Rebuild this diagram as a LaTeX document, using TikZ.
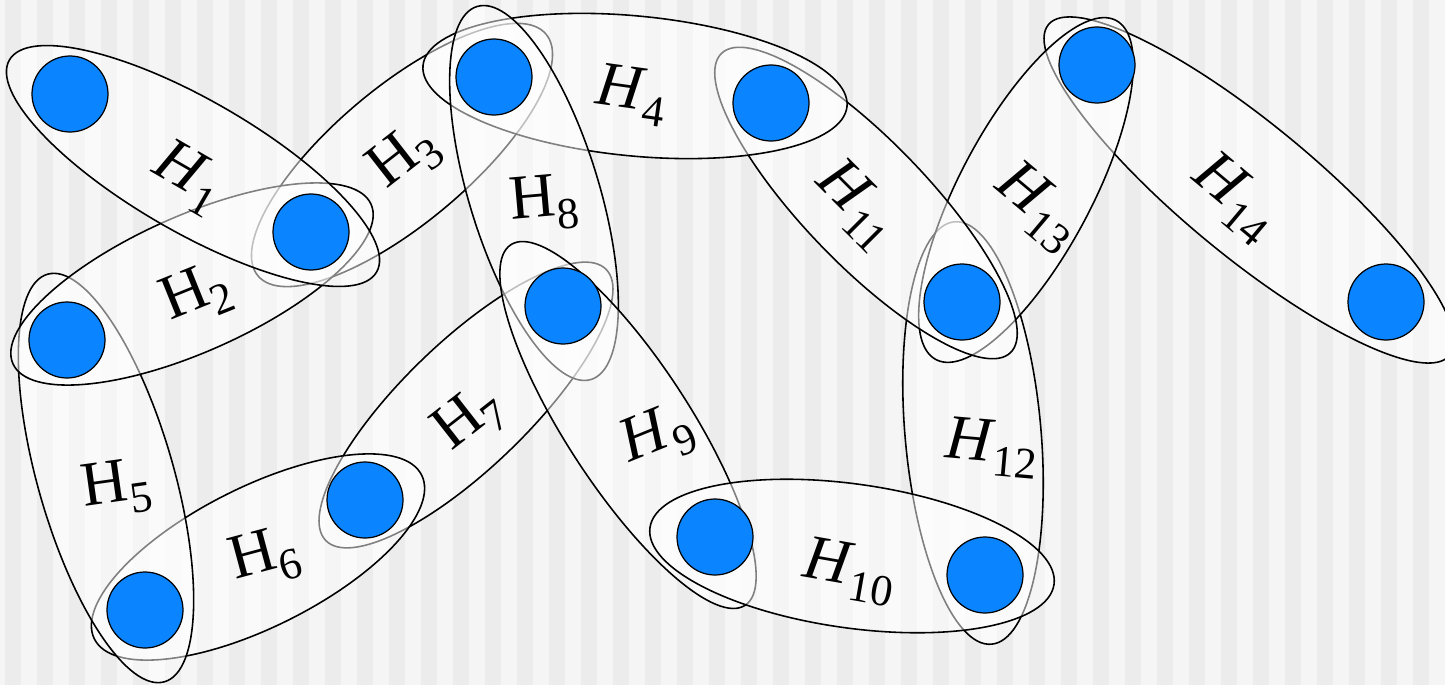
\documentclass[tikz,border=0pt]{standalone}
\usepackage{fontspec}
\setmainfont{Liberation Serif}
\usepackage{tikz}
\definecolor{vblue}{HTML}{0A84FF}
\definecolor{stripeA}{HTML}{ECECEC}
\definecolor{stripeB}{HTML}{F5F5F5}
\newcommand{\hname}[1]{\textit{H}\textsubscript{#1}}
\newcommand{\hnameup}[1]{H\textsubscript{#1}}

\begin{document}
\begin{tikzpicture}[x=0.2mm, y=-0.2mm,
  vtx/.style={circle,draw=black,line width=0.7pt,fill=vblue,minimum size=15.2mm,inner sep=0pt},
  hedge/.style={draw=black,line width=0.9pt,fill=white,fill opacity=0.5},
  lbl/.style={font=\fontsize{36}{40}\selectfont,inner sep=0pt}
]
  % striped background
  \fill[stripeB] (0,0) rectangle (1445,685);
  \foreach \k in {0,...,44}
    \fill[stripeA] ({5+32*\k},0) rectangle ({21+32*\k},685);
  \useasboundingbox (0,0) rectangle (1445,685);

  % hyperedges: centre x / centre y / half length / half width / angle
  \foreach \cx/\cy/\a/\b/\ang in {
      402/155/188/68/40,     % H3
      973/433/212/68/-85,    % H12
      1249/190/260/66/-39.5, % H14
      1026/190/192/66/62,    % H13
      866/203/208/62/-46,    % H11
      466/405/195/63/44,     % H7
      258/557/183/70/26.6,   % H6
      106/478/212/68/-74,    % H5
      192/284/196/68/24,     % H2
      193/166/212/66/-30,    % H1
      635/86/213/70/-5.5,    % H4
      534/193/195/65/-73,    % H8
      628/425/215/62/-57,    % H9
      852/556/204/72/-8}     % H10
    \draw[hedge,rotate around={\ang:(\cx,\cy)}]
      (\cx,\cy) ellipse [x radius=\a*0.2mm, y radius=\b*0.2mm];

  % vertices
  \node[vtx] (v1)  at (70,94)   {};
  \node[vtx] (v2)  at (311,232) {};
  \node[vtx] (v3)  at (494,77)  {};
  \node[vtx] (v4)  at (771,103) {};
  \node[vtx] (v5)  at (67,340)  {};
  \node[vtx] (v6)  at (563,306) {};
  \node[vtx] (v7)  at (365,500) {};
  \node[vtx] (v8)  at (145,610) {};
  \node[vtx] (v9)  at (715,537) {};
  \node[vtx] (v10) at (985,575) {};
  \node[vtx] (v11) at (962,302) {};
  \node[vtx] (v12) at (1097,65) {};
  \node[vtx] (v13) at (1386,302) {};

  % labels
  \node[lbl,rotate=-30] (h1)  at (188,178)  {\hname{1}};
  \node[lbl,rotate=22]  (h2)  at (197,295)  {\hnameup{2}};
  \node[lbl,rotate=38]  (h3)  at (405,158)  {\hnameup{3}};
  \node[lbl,rotate=-8]  (h4)  at (632,95)   {\hname{4}};
  \node[lbl,rotate=8]   (h5)  at (117,488)  {\hnameup{5}};
  \node[lbl,rotate=15]  (h6)  at (265,558)  {\hnameup{6}};
  \node[lbl,rotate=38]  (h7)  at (470,420)  {\hnameup{7}};
  \node[lbl,rotate=5]   (h8)  at (545,203)  {\hnameup{8}};
  \node[lbl,rotate=22]  (h9)  at (658,437)  {\hname{9}};
  \node[lbl,rotate=-10] (h10) at (850,572)  {\hname{10}};
  \node[lbl,rotate=-45] (h11) at (857,205)  {\hname{11}};
  \node[lbl,rotate=-5]  (h12) at (992,448)  {\hname{12}};
  \node[lbl,rotate=-40] (h13) at (1038,207) {\hname{13}};
  \node[lbl,rotate=-40] (h14) at (1235,198) {\hname{14}};
\end{tikzpicture}
\end{document}
